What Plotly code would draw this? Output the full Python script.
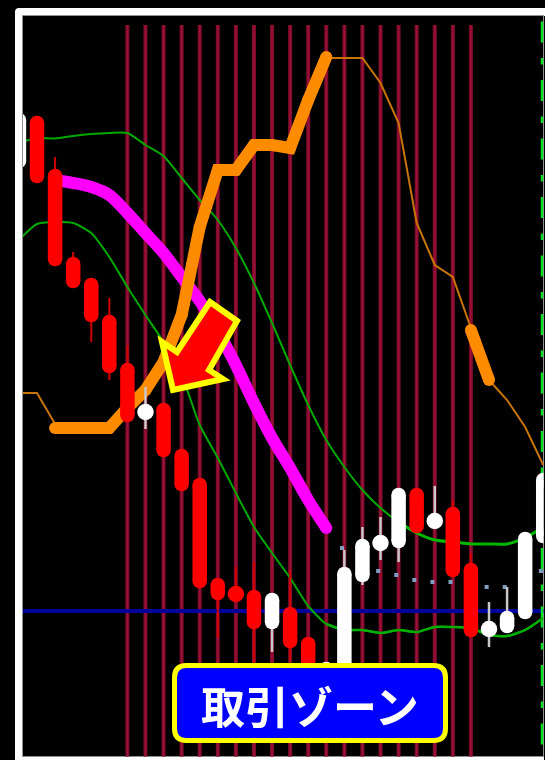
import plotly.graph_objects as go

# Chart values -------------------------------------------------------------
bar_index = list(range(-1, 29))

# body top, body bottom, wick high, wick low (price units)
red_bars = {
    0: (644, 577, None, None), 1: (591, 494, 603, None), 2: (503, 472, 508, None),
    3: (482, 438, None, 418), 4: (445, 387, 462, 380), 5: (397, 338, 415, None),
    7: (357, 303, None, None), 8: (311, 269, None, None), 9: (282, 172, None, None),
    10: (182, 160, None, 123), 11: (173, 159, 193, None), 12: (170, 131, 198, 97),
    14: (153, 112, 190, 100), 15: (123, 70, None, None), 21: (272, 227, None, None),
    23: (253, 183, 260, None), 24: (197, 123, 207, None),
}
white_bars = {
    -1: (647, 592, None, None), 6: (352, 344, 373, 331), 13: (167, 131, None, 108),
    16: (98, 60, None, None), 17: (193, 60, 210, None), 18: (221, 178, 233, 175),
    19: (224, 210, 243, 200), 20: (272, 212, None, 198), 22: (246, 232, 274, None),
    25: (138, 124, 158, 113), 26: (149, 127, 173, None), 27: (228, 141, None, None),
    28: (287, 217, None, None),
}
band_upper = [617, 622, 621.5, 624, 626, 627, 627, 615, 604, 582, 560, 540, 512, 477, 437,
              395, 355, 320, 293, 270, 252, 238, 227, 220, 218, 216, 216, 216, 222, 233]
band_lower = [520, 536, 538, 537, 527, 503, 473, 445, 418, 385, 335, 302, 267, 233, 207,
              182, 154, 136, 130, 130, 127, 130, 128, 133, 133, 132, 125, 124, 130, 142]
magenta_idx = list(range(1, 17))
magenta_val = [580, 577, 573, 565, 547, 527, 507, 483, 459, 429, 395, 357, 322, 292, 260, 232]

orange_thin1_idx = [-1, 0, 1]
orange_thin1_val = [367, 367, 336]
orange_thick1_idx = list(range(1, 17))
orange_thick1_val = [332, 332, 332, 332, 352, 370, 398, 445, 533, 590, 590, 615, 615, 612, 660, 703]
orange_thin2_idx = list(range(16, 25))
orange_thin2_val = [702, 702, 702, 677, 637, 537, 495, 483, 432]
orange_thick2_idx = [24, 25]
orange_thick2_val = [430, 380]
orange_thin3_idx = [25, 26, 27, 28]
orange_thin3_val = [380, 360, 333, 295]

zone_idx = list(range(5, 25))
zone_top = 735
zone_bottom = 0
level_blue = 149
dot_idx = [16.87, 18.87, 19.87, 20.87, 21.87, 22.87, 24.87, 25.87, 27.87]
dot_val = [212, 189, 185, 180, 178, 178, 173, 173, 189]
edge_idx = 27.93
label_text = "取引ゾーン"

# Figure geometry ----------------------------------------------------------
W, H = 545, 760
PL, PR, PT, PB = 23, 543.5, 16, 756.5
X0, DX = 37, 18.08
CAP = 7
BODY = 14.5


def fx(p):
    return p / W


def fy(p):
    return 1 - p / H


fig = go.Figure()


def line(x, y, color, width, **kw):
    fig.add_trace(go.Scatter(x=x, y=y, mode="lines", hoverinfo="skip", showlegend=False,
                             line=dict(color=color, width=width, **kw)))


# zone verticals
vx, vy = [], []
for i in zone_idx:
    vx += [i, i, None]
    vy += [zone_top, zone_bottom, None]
line(vx, vy, "#7d0c2c", 4)
line(vx, vy, "#9c1036", 1.5)
# blue level
line([bar_index[0], bar_index[-1] + 1], [level_blue, level_blue], "#00009c", 4)
# right-hand dashed green line
line([edge_idx, edge_idx], [738.5, 0], "#00e020", 2.5, dash="21px,15.5px,6.5px,15.5px")
# bands
line(bar_index, band_upper, "#00a800", 2, shape="spline", smoothing=0.6)
line(bar_index, band_lower, "#00a800", 2, shape="spline", smoothing=0.6)
line(bar_index[21:], band_upper[21:], "#00b800", 3, shape="spline", smoothing=0.6)
line(bar_index[17:], band_lower[17:], "#00b000", 2.5, shape="spline", smoothing=0.6)
# thick magenta
line(magenta_idx, magenta_val, "#ff00ff", 12, shape="spline", smoothing=0.8)
fig.add_trace(go.Scatter(x=magenta_idx[-1:], y=magenta_val[-1:], mode="markers", hoverinfo="skip",
                         showlegend=False, marker=dict(color="#ff00ff", size=12, opacity=1)))
# orange
for xs, ys in [(orange_thin1_idx, orange_thin1_val), (orange_thin2_idx, orange_thin2_val),
               (orange_thin3_idx, orange_thin3_val)]:
    line(xs, ys, "#c87408", 2)
for xs, ys in [(orange_thick1_idx, orange_thick1_val), (orange_thick2_idx, orange_thick2_val)]:
    fig.add_trace(go.Scatter(x=xs, y=ys, mode="lines+markers", hoverinfo="skip", showlegend=False,
                             marker=dict(color="#ff8c00", size=12, opacity=1),
                             line=dict(color="#ff8c00", width=12)))
# small dots
fig.add_trace(go.Scatter(x=dot_idx, y=dot_val, mode="markers", hoverinfo="skip", showlegend=False,
                         marker=dict(color="#7f9fc0", size=4, symbol="square", opacity=1)))


def candles(bars, body_color, wick_color, wick_w):
    wx, wy, bx, by, mx, my, ms = [], [], [], [], [], [], []
    for i, (top, bot, hi, lo) in bars.items():
        if hi is not None:
            wx += [i, i, None]
            wy += [hi, (top + bot) / 2, None]
        if lo is not None:
            wx += [i, i, None]
            wy += [lo, (top + bot) / 2, None]
        if top - bot <= BODY + 2:
            mx.append(i)
            my.append((top + bot) / 2)
            ms.append(BODY + 2)
        else:
            bx += [i, i, None]
            by += [top - CAP, bot + CAP, None]
            mx += [i, i]
            my += [top - CAP, bot + CAP]
            ms += [BODY, BODY]
    line(wx, wy, wick_color, wick_w)
    line(bx, by, body_color, BODY)
    fig.add_trace(go.Scatter(x=mx, y=my, mode="markers", hoverinfo="skip", showlegend=False,
                             marker=dict(color=body_color, size=ms, opacity=1, line=dict(width=0))))


candles(red_bars, "#ff0000", "#d00000", 2)
candles(white_bars, "#ffffff", "#c8c8c8", 2.5)


def rounded(x0, y0, x1, y1, r):
    a, b, c, d = fx(x0), fx(x1), fy(y0), fy(y1)
    rx, ry = r / W, r / H
    return (f"M{a+rx},{c} L{b-rx},{c} Q{b},{c} {b},{c-ry} L{b},{d+ry} Q{b},{d} {b-rx},{d} "
            f"L{a+rx},{d} Q{a},{d} {a},{d+ry} L{a},{c-ry} Q{a},{c} {a+rx},{c} Z")


def poly(points):
    return "M" + " L".join(f"{fx(a)},{fy(b)}" for a, b in points) + " Z"


shapes = [
    dict(type="path", path=rounded(15, 8, 552, 770, 4), xref="paper", yref="paper",
         fillcolor="#ffffff", line=dict(width=0), layer="below"),
    dict(type="rect", x0=fx(22.5), x1=fx(543.5), y0=fy(15.5), y1=fy(756.5), xref="paper", yref="paper",
         fillcolor="#000000", line=dict(color="#909090", width=1), layer="below"),
    dict(type="rect", x0=fx(544), x1=fx(545), y0=fy(16), y1=fy(760), xref="paper", yref="paper",
         fillcolor="#000000", line=dict(width=0), layer="below"),
    dict(type="path", xref="paper", yref="paper", fillcolor="#ff0000",
         line=dict(color="#ffff00", width=6),
         path=poly([(210, 302), (237, 321), (209, 370), (223, 379), (173, 390), (162, 342), (177, 352)])),
    dict(type="path", path=rounded(174.5, 665.5, 445.5, 740.5, 12), xref="paper", yref="paper",
         fillcolor="#0000ff", line=dict(color="#ffff00", width=5)),
]

fig.update_layout(
    width=W, height=H, autosize=False,
    margin=dict(l=0, r=0, t=0, b=0, pad=0),
    paper_bgcolor="#000000", plot_bgcolor="rgba(0,0,0,0)",
    showlegend=False,
    xaxis=dict(domain=[fx(PL), fx(PR)], range=[(PL - X0) / DX, (PR - X0) / DX], visible=False, fixedrange=True),
    yaxis=dict(domain=[fy(PB), fy(PT)], range=[H - PB, H - PT], visible=False, fixedrange=True),
    shapes=shapes,
    annotations=[dict(text=f"<b>{label_text}</b>", x=fx(310), y=fy(705), xref="paper", yref="paper",
                      showarrow=False, xanchor="center", yanchor="middle",
                      font=dict(family="Noto Sans CJK JP", size=44, color="#ffffff"))],
)
fig.write_html("out.html", config=dict(displayModeBar=False),
               post_script="document.body.style.margin='0';document.body.style.overflow='hidden';"
                           "document.querySelectorAll('.main-svg').forEach(function(s){s.style.filter='blur(0.6px)';});")
